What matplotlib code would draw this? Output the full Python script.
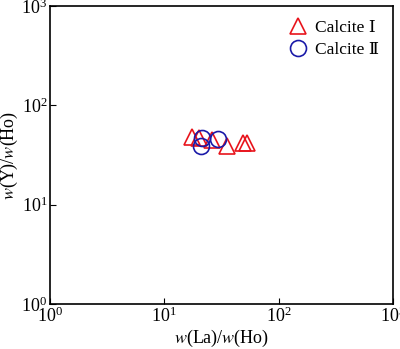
import matplotlib
matplotlib.use("Agg")
import matplotlib.pyplot as plt

plt.rcParams['font.family'] = ['Liberation Serif', 'DejaVu Serif', 'Noto Sans CJK SC']
plt.rcParams['mathtext.fontset'] = 'stix'

# === DATA ===
calc1_la_ho = [17.4, 20.0, 26.0, 35.2, 48.5, 52.5]
calc1_y_ho = [48.4, 46.5, 44.9, 39.0, 41.5, 42.1]
calc2_la_ho = [21.2, 20.8, 29.7]
calc2_y_ho = [46.7, 39.0, 45.5]

fig = plt.figure(figsize=(4.0, 3.49), dpi=100)
ax = fig.add_axes([0.125, 0.129, 0.8575, 0.854])

ax.plot(calc1_la_ho, calc1_y_ho, ls='none', marker='^', ms=11, mfc='none',
        mec='#e8141c', mew=1.2, label='Calcite Ⅰ')
ax.plot(calc2_la_ho, calc2_y_ho, ls='none', marker='o', ms=11.5, mfc='none',
        mec='#1a1aa8', mew=1.2, label='Calcite Ⅱ')

ax.set_xscale('log')
ax.set_yscale('log')
ax.set_xlim(1, 1000)
ax.set_ylim(1, 1000)
ax.minorticks_off()
ax.tick_params(direction='in', length=4, labelsize=13, pad=2)
for s in ax.spines.values():
    s.set_linewidth(1.2)

ax.set_xlabel(r'$w$(La)/$w$(Ho)', fontsize=13, labelpad=1)
ax.set_ylabel(r'$w$(Y)/$w$(Ho)', fontsize=13, labelpad=1)

leg = ax.legend(loc='upper right', frameon=False, fontsize=12.5, handletextpad=0.2,
                borderaxespad=0.3, labelspacing=0.35, handlelength=1.6,
                bbox_to_anchor=(0.995, 0.995))

plt.savefig('out.png', dpi=100)
